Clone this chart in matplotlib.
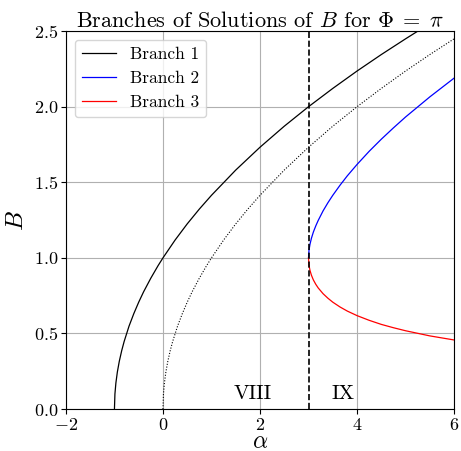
import numpy as np
import matplotlib
matplotlib.use("Agg")
import matplotlib.pyplot as plt

plt.rcParams['font.family'] = 'serif'
plt.rcParams['font.serif'] = ['cmr10']
plt.rcParams['mathtext.fontset'] = 'cm'
plt.rcParams['axes.formatter.use_mathtext'] = True

# Branch 1
alpha1 = [-1, -0.99, -0.97, -0.94, -0.9, -0.85, -0.8, -0.7, -0.6, -0.5, -0.4, -0.25,
          -0.1, 0, 0.25, 0.5, 0.75, 1, 1.5, 2, 2.5, 3, 3.5, 4, 4.5, 5, 5.5, 6]
B1 = [0, 0.1, 0.173, 0.245, 0.316, 0.387, 0.447, 0.548, 0.632, 0.707, 0.775, 0.866,
      0.949, 1.0, 1.118, 1.225, 1.323, 1.414, 1.581, 1.732, 1.871, 2.0, 2.121, 2.236,
      2.345, 2.449, 2.550, 2.646]

# dotted reference curve
alpha_d = [0, 0.01, 0.03, 0.06, 0.1, 0.15, 0.2, 0.3, 0.4, 0.5, 0.6, 0.75, 0.9, 1,
           1.25, 1.5, 1.75, 2, 2.5, 3, 3.5, 4, 4.5, 5, 5.5, 6]
B_d = [0, 0.1, 0.173, 0.245, 0.316, 0.387, 0.447, 0.548, 0.632, 0.707, 0.775, 0.866,
       0.949, 1.0, 1.118, 1.225, 1.323, 1.414, 1.581, 1.732, 1.871, 2.0, 2.121, 2.236,
       2.345, 2.449]

# Branches 2 and 3 start at alpha = 3
alpha23 = [3, 3.01, 3.03, 3.06, 3.1, 3.15, 3.2, 3.3, 3.4, 3.5, 3.65, 3.8, 4, 4.25,
           4.5, 4.75, 5, 5.5, 6]
B2 = [1.0, 1.051, 1.090, 1.130, 1.171, 1.212, 1.248, 1.311, 1.365, 1.414, 1.481,
      1.543, 1.618, 1.705, 1.785, 1.860, 1.932, 2.065, 2.189]
B3 = [1.0, 0.951, 0.917, 0.885, 0.854, 0.825, 0.801, 0.763, 0.733, 0.707, 0.675,
      0.648, 0.618, 0.587, 0.560, 0.538, 0.518, 0.484, 0.457]

alpha_crit = 3
regions = ['VIII', 'IX']
region_x = [1.85, 3.72]

fig = plt.figure(figsize=(4.61, 4.51), dpi=100)
ax = fig.add_axes([0.143, 0.093, 0.842, 0.838])

ax.plot(alpha1, B1, color='black', lw=0.9, label='Branch 1')
ax.plot(alpha23, B2, color='blue', lw=0.9, label='Branch 2')
ax.plot(alpha23, B3, color='red', lw=0.9, label='Branch 3')
ax.plot(alpha_d, B_d, color='black', lw=0.8, linestyle=(0, (1, 1.5)))
ax.axvline(alpha_crit, color='black', lw=1.2, linestyle='--')

for name, xr in zip(regions, region_x):
    ax.text(xr, 0.1, name, ha='center', va='center', fontsize=15)

ax.set_xlim(-2, 6)
ax.set_ylim(0, 2.5)
ax.set_xticks([-2, 0, 2, 4, 6])
ax.set_yticks([0, 0.5, 1.0, 1.5, 2.0, 2.5])
ax.grid(True, color='#b0b0b0', lw=0.8)
ax.tick_params(labelsize=13, pad=2)
ax.set_xlabel(r'$\alpha$', fontsize=17, labelpad=-1)
ax.set_ylabel(r'$B$', fontsize=18, labelpad=4)
ax.set_title(r'Branches of Solutions of $B$ for $\Phi\;=\;\pi$', fontsize=16, pad=3)
ax.legend(loc='upper left', fontsize=12.5)

fig.savefig('out.png', dpi=100)
